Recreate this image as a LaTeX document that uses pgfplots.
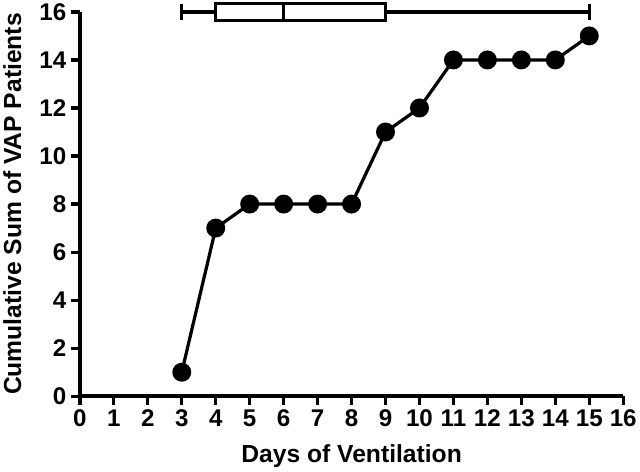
\documentclass[border=0pt]{standalone}
\usepackage{pgfplots}
\pgfplotsset{compat=1.18}
\usepgfplotslibrary{statistics}
\usepackage{fontspec}
\setmainfont{Liberation Sans}
\begin{document}
\begin{tikzpicture}
\begin{axis}[
    scale only axis,
    width=540pt, height=382pt,
    xmin=0, xmax=16, ymin=0, ymax=16,
    xtick={0,1,...,16}, ytick={0,2,...,16},
    axis x line*=bottom, axis y line*=left,
    axis line style={line width=3.6pt},
    tick style={line width=3.2pt, black},
    tick align=outside,
    major tick length=9pt,
    clip=false,
    /pgf/number format/assume math mode=true,
    ticklabel style={font=\fontsize{24}{26}\selectfont\bfseries},
    xticklabel style={yshift=-1pt},
    yticklabel style={xshift=-1pt},
    label style={font=\fontsize{24.5}{27}\selectfont\bfseries},
    xlabel={Days of Ventilation},
    ylabel={Cumulative Sum of VAP Patients},
    xlabel style={yshift=-11pt},
    ylabel style={yshift=11pt},
]
% cumulative count
\addplot[black, line width=3.2pt, mark=*, mark size=7.8pt] coordinates {
    (3,1) (4,7) (5,8) (6,8) (7,8) (8,8) (9,11) (10,12)
    (11,14) (12,14) (13,14) (14,14) (15,15)
};
% box plot of days of ventilation
\addplot[black, line width=3.2pt, fill=white,
    boxplot prepared={
        lower whisker=3, lower quartile=4, median=6,
        upper quartile=9, upper whisker=15,
        draw direction=x, draw position=16,
        box extend=0.72, whisker extend=0.65
    }] coordinates {};
\end{axis}
\end{tikzpicture}
\end{document}
